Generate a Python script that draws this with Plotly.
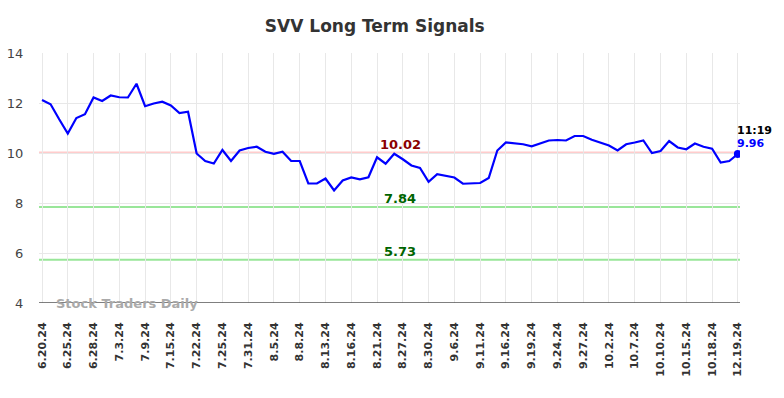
import plotly.graph_objects as go

tick_labels = ["6.20.24", "6.25.24", "6.28.24", "7.3.24", "7.9.24", "7.15.24", "7.22.24",
               "7.25.24", "7.31.24", "8.5.24", "8.8.24", "8.13.24", "8.16.24", "8.21.24",
               "8.27.24", "8.30.24", "9.6.24", "9.11.24", "9.16.24", "9.19.24", "9.24.24",
               "9.27.24", "10.2.24", "10.7.24", "10.10.24", "10.15.24", "10.18.24", "12.19.24"]

prices = [12.12, 11.95, 11.35, 10.78, 11.40, 11.55, 12.22, 12.08, 12.30, 12.23,
          12.22, 12.77, 11.87, 11.98, 12.05, 11.90, 11.60, 11.65, 9.98, 9.68,
          9.58, 10.12, 9.68, 10.10, 10.20, 10.25, 10.05, 9.97, 10.05, 9.68,
          9.68, 8.78, 8.78, 8.98, 8.50, 8.90, 9.02, 8.95, 9.03, 9.83,
          9.57, 9.97, 9.75, 9.50, 9.40, 8.85, 9.15, 9.08, 9.02, 8.77,
          8.78, 8.80, 9.00, 10.10, 10.42, 10.40, 10.35, 10.27, 10.40, 10.50,
          10.52, 10.50, 10.68, 10.68, 10.53, 10.40, 10.30, 10.10, 10.35, 10.42,
          10.50, 10.00, 10.08, 10.48, 10.22, 10.15, 10.38, 10.25, 10.17, 9.62,
          9.68, 9.96]

resistance = 10.02
supports = [7.84, 5.73]
last_time = "11:19"
last_price = 9.96

x_idx = list(range(len(prices)))
tick_pos = [i * 3 for i in range(len(tick_labels))]

font = "DejaVu Sans"
fig = go.Figure()

fig.add_trace(go.Scatter(x=x_idx, y=prices, mode="lines",
                         line=dict(color="#0000ff", width=2.2), hoverinfo="skip"))
fig.add_trace(go.Scatter(x=[x_idx[-1]], y=[last_price], mode="markers",
                         marker=dict(color="#0000ff", size=8), hoverinfo="skip"))

fig.add_shape(type="line", xref="paper", x0=0, x1=1, y0=resistance, y1=resistance,
              line=dict(color="#ffcccc", width=2), layer="below")
for s in supports:
    fig.add_shape(type="line", xref="paper", x0=0, x1=1, y0=s, y1=s,
                  line=dict(color="#99e699", width=2), layer="below")

fig.add_annotation(x=41.7, y=resistance, text=f"<b>{resistance:.2f}</b>", showarrow=False,
                   yanchor="bottom", yshift=-1, font=dict(family=font, size=13, color="#8b0000"))
for s in supports:
    fig.add_annotation(x=41.7, y=s, text=f"<b>{s:.2f}</b>", showarrow=False,
                       yanchor="bottom", yshift=-1, font=dict(family=font, size=13, color="#006400"))

fig.add_annotation(x=x_idx[-1], y=last_price, text=f"<b>{last_time}</b>", showarrow=False,
                   xanchor="left", yanchor="bottom", xshift=-3, yshift=15,
                   font=dict(family=font, size=11, color="#000000"))
fig.add_annotation(x=x_idx[-1], y=last_price, text=f"<b>{last_price:.2f}</b>", showarrow=False,
                   xanchor="left", yanchor="bottom", xshift=-3, yshift=2,
                   font=dict(family=font, size=11, color="#0000ff"))

fig.add_annotation(xref="paper", yref="y", x=0.021, y=4, text="<b>Stock Traders Daily</b>",
                   showarrow=False, xanchor="left", yanchor="middle",
                   font=dict(family=font, size=13, color="#aaaaaa"))

fig.update_layout(
    width=784, height=398,
    margin=dict(l=39, r=44, t=53, b=95, autoexpand=False),
    paper_bgcolor="white", plot_bgcolor="white",
    showlegend=False,
    title=dict(text="<b>SVV Long Term Signals</b>", x=0.478, xanchor="center", y=0.935,
               yanchor="middle", font=dict(family=font, size=17, color="#333333")),
    xaxis=dict(range=[-0.35, 81.25], tickmode="array", tickvals=tick_pos,
               ticktext=[f"<b>{t}</b>" for t in tick_labels],
               tickangle=-90, showgrid=True, gridcolor="#e8e8e8", gridwidth=1,
               ticks="outside", ticklen=14, tickcolor="rgba(0,0,0,0)",
               tickfont=dict(family=font, size=11, color="#333333"),
               showline=False, zeroline=False, automargin=False),
    yaxis=dict(range=[4, 14], tickvals=[4, 6, 8, 10, 12, 14], showgrid=True,
               gridcolor="#e8e8e8", gridwidth=1, ticks="outside", ticklen=12,
               tickcolor="rgba(0,0,0,0)", tickfont=dict(family=font, size=13, color="#444444"),
               zeroline=False, showline=False, automargin=False),
)
fig.add_shape(type="line", xref="paper", yref="y", x0=0, x1=1, y0=4, y1=4,
              line=dict(color="#555555", width=1.5))

fig.write_html("out.html", config={"displayModeBar": False},
               post_script="document.body.style.margin='0';document.body.style.overflow='hidden';")
